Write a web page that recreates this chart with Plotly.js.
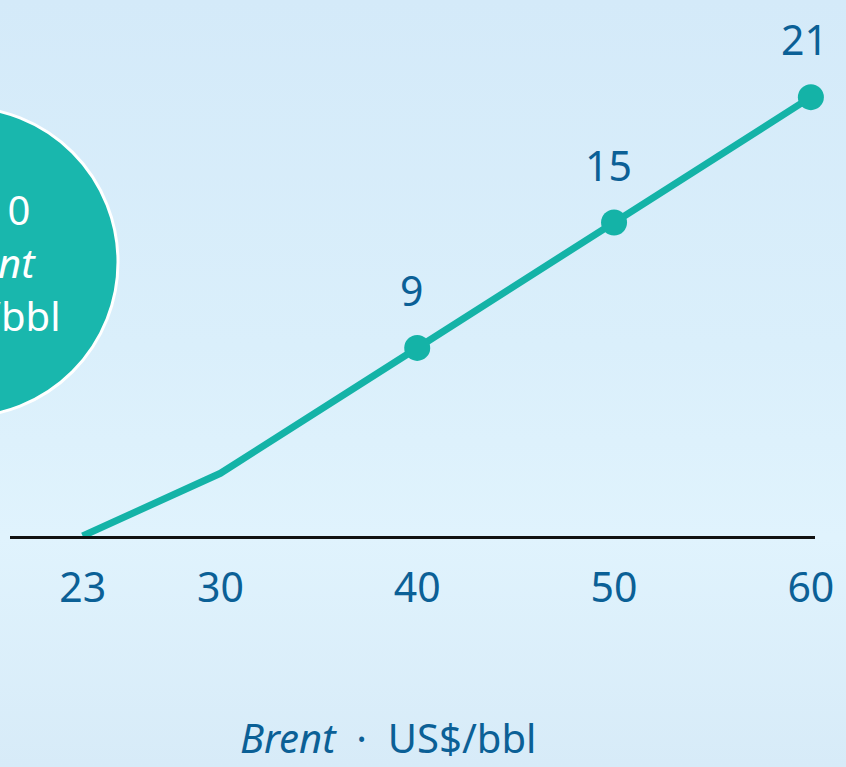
<!DOCTYPE html>
<html>
<head>
<meta charset="utf-8">
<script src="https://cdn.plot.ly/plotly-3.0.1.min.js"></script>
<style>
  html, body { margin: 0; padding: 0; }
  body {
    width: 846px; height: 767px; overflow: hidden;
    background: linear-gradient(180deg, #d4eaf9 0%, #daeffb 45%, #e0f3fd 70%, #d7ebf8 100%);
  }
  #chart { width: 846px; height: 767px; }
</style>
</head>
<body>
<div id="chart"></div>
<script>
// Data
const brent = [23, 30, 40, 50, 60];          // Brent, US$/bbl
const result = [0, 3, 9, 15, 21];            // value on the line
const tickLabels = ['23', '30', '40', '50', '60'];
const labelledX = [40, 50, 60];
const labelledY = [9, 15, 21];
const labelText = ['9', '15', '21'];
const circleLines = ['US$ 0', '<i>Brent</i>', 'US$/bbl'];
const axisTitle = '<i>Brent</i>\u00a0\u00a0·\u00a0\u00a0US$/bbl';

const teal = '#14b3a7';
const blue = '#0b6096';
const fontFamily = '"Noto Sans", "Open Sans", sans-serif';

// layout geometry (pixels)
const W = 846, H = 767, ML = 10, MR = 31, MT = 0, MB = 231;
const PW = W - ML - MR, PH = H - MT - MB;
const px = p => (p - ML) / PW;
const py = p => (PH + MT - p) / PH;

const traces = [
  {
    x: brent, y: result, type: 'scatter', mode: 'lines',
    line: { color: teal, width: 7 }, cliponaxis: false, hoverinfo: 'skip'
  },
  {
    x: labelledX, y: labelledY, type: 'scatter', mode: 'markers',
    marker: { color: teal, size: 26 }, cliponaxis: false, hoverinfo: 'skip'
  }
];

const annotations = labelledX.map((x, i) => ({
  x: x, y: labelledY[i], xref: 'x', yref: 'y', text: labelText[i],
  showarrow: false, yanchor: 'middle', yshift: 58, xshift: -6,
  font: { family: fontFamily, size: 41, color: blue }
}));

annotations.push({
  xref: 'paper', yref: 'paper', x: px(388), y: py(737),
  text: axisTitle, showarrow: false, xanchor: 'center', yanchor: 'middle',
  font: { family: fontFamily, size: 40, color: blue }
});

const circleRight = [32, 38, 62];
const circleY = [210, 262, 315];
circleLines.forEach((t, i) => annotations.push({
  xref: 'paper', yref: 'paper', x: px(circleRight[i]), y: py(circleY[i]),
  text: t, showarrow: false, xanchor: 'right', yanchor: 'middle',
  font: { family: fontFamily, size: 40, color: '#ffffff' }
}));

const layout = {
  width: W, height: H,
  margin: { l: ML, r: MR, t: MT, b: MB, pad: 0 },
  paper_bgcolor: 'rgba(0,0,0,0)',
  plot_bgcolor: 'rgba(0,0,0,0)',
  showlegend: false,
  xaxis: {
    range: [19.31, 60.21], showgrid: false, zeroline: false,
    showline: true, linecolor: '#111111', linewidth: 3,
    tickmode: 'array', tickvals: brent, ticktext: tickLabels,
    ticks: '', ticklabelstandoff: 14,
    tickfont: { family: fontFamily, size: 41, color: blue },
    fixedrange: true
  },
  yaxis: {
    range: [0, 25.65], visible: false, showgrid: false, zeroline: false,
    fixedrange: true
  },
  shapes: [{
    type: 'circle', xref: 'paper', yref: 'paper',
    xsizemode: 'pixel', ysizemode: 'pixel',
    xanchor: px(-37), yanchor: py(262),
    x0: -155, x1: 155, y0: -155, y1: 155,
    fillcolor: '#19b7ad', line: { color: '#ffffff', width: 3 },
    layer: 'below'
  }],
  annotations: annotations
};

Plotly.newPlot('chart', traces, layout, { displayModeBar: false, staticPlot: true });
</script>
</body>
</html>
